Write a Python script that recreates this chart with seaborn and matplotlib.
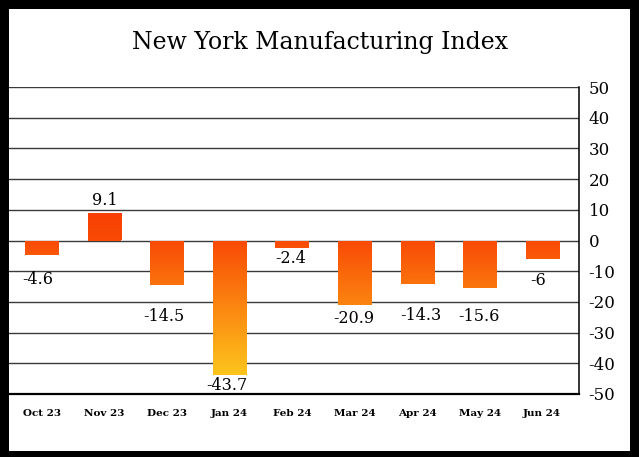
import numpy as np
import pandas as pd
import matplotlib
matplotlib.use("Agg")
import matplotlib.pyplot as plt
import seaborn as sns
from matplotlib.colors import LinearSegmentedColormap, Normalize
from matplotlib.patches import Rectangle

# dados do indice
meses = ["Oct 23", "Nov 23", "Dec 23", "Jan 24", "Feb 24", "Mar 24", "Apr 24", "May 24", "Jun 24"]
valores = [-4.6, 9.1, -14.5, -43.7, -2.4, -20.9, -14.3, -15.6, -6]

# deslocamento dos rotulos (pixels), como no grafico original
rot_dx = [-4, 0, -3, -3, -1, -1, 4, -1, -4]
rot_dy = [-25, 12, -31, -11, -11, -14, -31, -28, -22]

df = pd.DataFrame({"Mes": meses, "Indice": valores})

sns.set_theme(style="white")
plt.rcParams["font.family"] = ["DejaVu Serif"]
plt.rcParams["axes.unicode_minus"] = False

fig = plt.figure(figsize=(6.39, 4.57), dpi=100, facecolor="black")
fig.add_artist(Rectangle((9 / 639, 6 / 457), 621 / 639, 442 / 457,
                         transform=fig.transFigure, facecolor="white",
                         edgecolor="none", zorder=0))

ax = fig.add_axes([9 / 639, 63 / 457, 570 / 639, 307 / 457])
ax.set_facecolor("white")
sns.barplot(data=df, x="Mes", y="Indice", ax=ax, width=0.53,
            color="#F94A05", saturation=1, linewidth=0, zorder=3)

# gradiente vermelho -> amarelo conforme o valor
cmap = LinearSegmentedColormap.from_list(
    "grad", [(0.0, "#FDC51C"), (44 / 54, "#F94A05"), (1.0, "#F83E03")])
norm = Normalize(vmin=-44, vmax=10)
for p in ax.patches:
    x, w = p.get_x(), p.get_width()
    y0 = min(p.get_y(), p.get_y() + p.get_height())
    y1 = max(p.get_y(), p.get_y() + p.get_height())
    grad = np.linspace(y1, y0, 100).reshape(-1, 1)
    im = ax.imshow(grad, extent=(x, x + w, y0, y1), cmap=cmap, norm=norm,
                   aspect="auto", origin="upper", zorder=3.5)
    im.set_clip_path(p)

ax.set_xlim(-0.528, 8.59)
ax.set_ylim(-50, 50)
ax.set_yticks(range(-50, 51, 10))
ax.yaxis.tick_right()
ax.grid(axis="y", color="#3a3a3a", lw=1.0)
ax.set_axisbelow(True)
for s in ["top", "left"]:
    ax.spines[s].set_visible(False)
ax.spines["right"].set_color("black")
ax.spines["right"].set_linewidth(1.1)
ax.spines["bottom"].set_color("black")
ax.spines["bottom"].set_linewidth(1.6)

ax.tick_params(axis="y", labelsize=12, length=0, pad=7, colors="black")
ax.tick_params(axis="x", labelsize=7.5, length=0, pad=11, colors="black")
for t in ax.get_xticklabels():
    t.set_fontweight("bold")
ax.set_xlabel("")
ax.set_ylabel("")

for i, v in enumerate(valores):
    ax.annotate(f"{v:g}", xy=(i, v), xytext=(rot_dx[i], rot_dy[i]),
                textcoords="offset pixels", ha="center", va="center",
                fontsize=11.5, color="black", zorder=5)

fig.text(0.5, 1 - 42 / 457, "New York Manufacturing Index",
         ha="center", va="center", fontsize=17, color="black")

fig.savefig("out.png", dpi=100, facecolor="black")
